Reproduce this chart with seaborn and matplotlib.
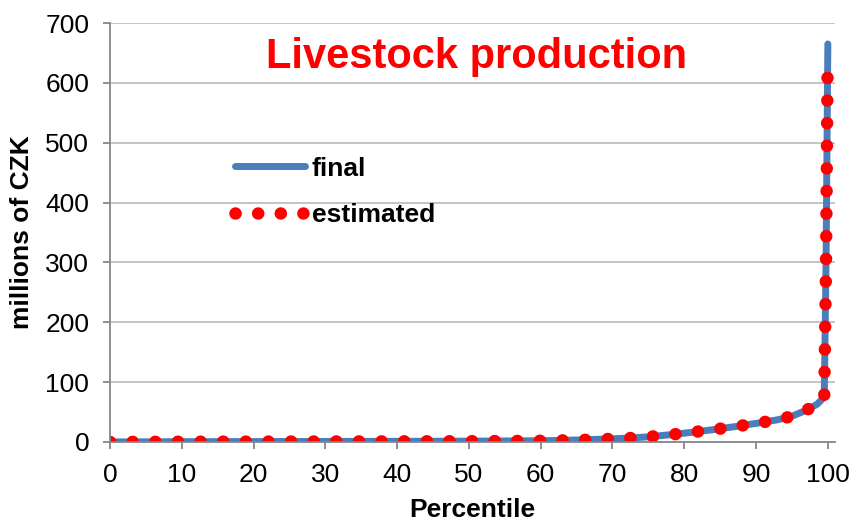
import matplotlib
matplotlib.use("Agg")
import matplotlib.pyplot as plt
import seaborn as sns
import pandas as pd

# values (millions of CZK by percentile)
pct_final = [0, 5, 10, 20, 30, 40, 50, 55, 60, 63, 66, 69, 72, 75, 78, 81, 84, 87, 90, 93, 95, 97, 98.5, 99.5, 99.75, 100]
val_final = [0, 0.2, 0.4, 0.6, 0.8, 1.0, 1.3, 1.6, 2.0, 2.6, 3.5, 4.8, 6.2, 8.5, 12, 16, 20.5, 25.5, 31, 37, 43, 53, 63, 75, 300, 665]

pct_est = [0, 5, 10, 20, 30, 40, 50, 55, 60, 63, 66, 69, 72, 75, 78, 81, 84, 87, 90, 93, 95, 97, 98.5, 99.5, 99.75, 99.95]
val_est = [0, 0.2, 0.4, 0.6, 0.8, 1.0, 1.3, 1.6, 2.0, 2.6, 3.5, 4.8, 6.2, 8.5, 12, 16, 20.5, 25.5, 31, 37, 43, 53, 63, 75, 300, 610]

df_final = pd.DataFrame({"Percentile": pct_final, "value": val_final})
df_est = pd.DataFrame({"Percentile": pct_est, "value": val_est})

sns.set_style("white")
plt.rcParams["font.family"] = ["Liberation Sans", "DejaVu Sans"]
plt.rcParams["text.color"] = "black"
plt.rcParams["axes.labelcolor"] = "black"
plt.rcParams["xtick.color"] = "black"
plt.rcParams["ytick.color"] = "black"

fig = plt.figure(figsize=(8.56, 5.23), dpi=100)
ax = fig.add_axes([0.1285, 0.155, 0.847, 0.801])

sns.lineplot(data=df_final, x="Percentile", y="value", ax=ax, color="#4a7ebb",
             lw=5, label="final", sort=False, solid_capstyle="round")
sns.lineplot(data=df_est, x="Percentile", y="value", ax=ax, color="#ff0000",
             lw=9, label="estimated", sort=False)
ax.lines[1].set_linestyle((0, (0.01, 1.8)))
ax.lines[1].set_dash_capstyle("round")

ax.set_xlim(0, 101)
ax.set_ylim(0, 700)
ax.set_xticks(range(0, 101, 10))
ax.set_yticks(range(0, 701, 100))

ax.yaxis.grid(True, color="#bfbfbf", lw=1.3)
ax.set_axisbelow(True)
for s in ["top", "right"]:
    ax.spines[s].set_visible(False)
for s in ["left", "bottom"]:
    ax.spines[s].set_color("#868686")
    ax.spines[s].set_linewidth(1.3)
ax.tick_params(axis="both", which="major", labelsize=19, length=5, width=1.3,
               color="#868686", labelcolor="black", pad=10, direction="out")
ax.tick_params(axis="x", bottom=True)
ax.tick_params(axis="y", left=True)

ax.set_xlabel("Percentile", fontsize=19, fontweight="bold", labelpad=8)
ax.set_ylabel("millions of CZK", fontsize=19, fontweight="bold", labelpad=8)

ax.text(0.505, 0.92, "Livestock production", transform=ax.transAxes, ha="center",
        va="center", fontsize=30, fontweight="bold", color="#ff0000")

ax.legend(loc="center left", bbox_to_anchor=(0.172, 0.597), frameon=False,
          borderpad=0, borderaxespad=0, handlelength=2.65, handletextpad=0.27,
          labelspacing=0.85, prop={"size": 19, "weight": "bold"})

fig.savefig("out.png", dpi=100)
